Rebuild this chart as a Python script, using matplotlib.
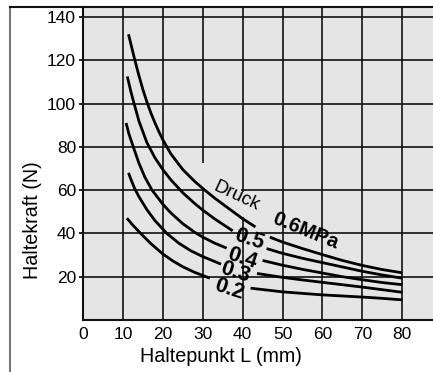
import numpy as np
import matplotlib
matplotlib.use('Agg')
import matplotlib.pyplot as plt
from matplotlib.lines import Line2D
from matplotlib.patches import Rectangle

plt.rcParams['font.family'] = ['Liberation Sans', 'DejaVu Sans']

nan = np.nan

# Haltekraft curves (nan = gap for the label)
L_06 = [11.4, 12.0, 13.0, 14.0, 15.0, 16.0, 17.0, 18.0, 19.0, 20.0, 22.0, 25.0, 28.0, 30.0, 33.0, 36.0,
        40.0, 43.2, nan, 46.8, 50.0, 55.0, 60.0, 65.0, 70.0, 75.0, 80.0]
F_06 = [132.0, 127.5, 120.0, 113.0, 106.5, 100.8, 95.7, 91.2, 87.1, 83.3, 76.8, 69.5, 64.0, 60.8, 56.3, 52.2,
        46.8, 43.0, nan, 38.3, 36.0, 33.0, 30.2, 27.5, 25.2, 23.3, 21.8]

L_05 = [11.1, 12.0, 12.5, 14.0, 16.0, 18.0, 20.0, 22.0, 25.0, 28.0, 30.0, 33.0, 37.5, nan,
        46.0, 50.0, 55.0, 60.0, 65.0, 70.0, 75.0, 80.0]
F_05 = [112.5, 105.5, 102.0, 92.0, 82.0, 75.0, 69.5, 64.8, 58.8, 53.8, 50.8, 46.7, 41.2, nan,
        33.0, 30.8, 28.5, 26.5, 24.5, 22.5, 20.8, 19.3]

L_04 = [10.8, 11.5, 12.6, 14.0, 15.5, 17.3, 20.0, 22.0, 25.0, 28.0, 30.0, 33.0, 36.0, nan,
        45.0, 50.0, 55.0, 60.0, 65.0, 70.0, 75.0, 80.0]
F_04 = [91.0, 86.0, 80.0, 72.5, 66.0, 60.0, 53.5, 49.5, 44.5, 40.5, 38.3, 35.5, 33.2, nan,
        27.5, 25.3, 23.4, 21.7, 20.0, 18.6, 17.3, 16.3]

L_03 = [11.4, 12.0, 13.0, 14.0, 16.0, 18.0, 21.0, 24.0, 27.0, 30.0, 34.6, nan,
        43.6, 50.0, 55.0, 60.0, 65.0, 70.0, 75.0, 80.0]
F_03 = [68.0, 65.0, 60.5, 57.0, 51.0, 46.0, 40.0, 35.5, 32.0, 29.3, 25.8, nan,
        21.5, 19.7, 18.5, 17.4, 16.3, 15.2, 14.0, 12.8]

L_02 = [11.0, 12.5, 14.7, 17.0, 20.0, 22.5, 25.0, 28.0, 31.8, nan,
        42.0, 50.0, 55.0, 60.0, 65.0, 70.0, 75.0, 80.0]
F_02 = [47.0, 43.8, 39.5, 35.3, 30.5, 27.3, 24.6, 22.0, 19.3, nan,
        14.7, 13.0, 12.3, 11.6, 11.1, 10.6, 10.0, 9.3]

curves = [(L_06, F_06), (L_05, F_05), (L_04, F_04), (L_03, F_03), (L_02, F_02)]

druck_labels = ['0.5', '0.4', '0.3', '0.2']
druck_label_pos = [(41.7, 37.4), (40.0, 28.4), (38.1, 21.8), (36.6, 14.0)]

x_ticks = [0, 10, 20, 30, 40, 50, 60, 70, 80]
y_ticks = [20, 40, 60, 80, 100, 120, 140]

fig = plt.figure(figsize=(4.33, 3.72), dpi=100)
ax = fig.add_axes([83 / 433, 1 - 320 / 372, 1 - 83 / 433, (320 - 7) / 372])
bg = '#e5e5e5'
ax.set_facecolor(bg)
ax.set_xlim(0, 87.7)
ax.set_ylim(0, 144.6)

# grid lines
for xv in x_ticks[1:]:
    ax.axvline(xv, color='#111111', lw=1.2, zorder=1)
for yv in y_ticks:
    ax.axhline(yv, color='#111111', lw=1.2, zorder=1)

# grid gaps around the "Druck" label, as in the original print
ax.add_patch(Rectangle((29.4, 60.8), 1.2, 11.5, color=bg, zorder=2, lw=0))
ax.add_patch(Rectangle((30.6, 58.5), 8.9, 3.0, color=bg, zorder=2, lw=0))
ax.add_patch(Rectangle((39.4, 47.5), 1.2, 11.8, color=bg, zorder=2, lw=0))

for L, F in curves:
    ax.plot(L, F, color='black', lw=2.0, solid_capstyle='butt', zorder=3)

ax.text(38.5, 57.0, 'Druck', fontsize=13.5, rotation=-25, ha='center', va='center', zorder=4)
ax.text(55.8, 41.2, '0.6MPa', fontsize=14.5, fontweight='bold', rotation=-22,
        ha='center', va='center', zorder=4)
for lab, (lx, ly) in zip(druck_labels, druck_label_pos):
    ax.text(lx, ly, lab, fontsize=15.5, fontweight='bold', rotation=-18,
            ha='center', va='center', zorder=4)

ax.set_xticks(x_ticks)
ax.set_yticks(y_ticks)
ax.tick_params(axis='x', length=0, labelsize=12.5, pad=5)
ax.tick_params(axis='y', length=3, width=1.2, labelsize=12.5, pad=2)
ax.spines['right'].set_visible(False)
for side in ['left', 'bottom', 'top']:
    ax.spines[side].set_linewidth(1.5)
    ax.spines[side].set_color('#111111')

fig.text(221 / 433, 1 - 356 / 372, 'Haltepunkt L (mm)', fontsize=14.2, ha='center', va='center')
fig.text(32.5 / 433, 1 - 220 / 372, 'Haltekraft (N)', fontsize=14.2, rotation=90,
         ha='center', va='center')

# outer frame of the original figure
fig.add_artist(Line2D([10 / 433, 10 / 433], [0, 1 - 7 / 372], color='#777777', lw=1.5))
fig.add_artist(Line2D([10 / 433, 83 / 433], [1 - 7 / 372, 1 - 7 / 372], color='#111111', lw=1.5))

fig.savefig('out.png', dpi=100)
